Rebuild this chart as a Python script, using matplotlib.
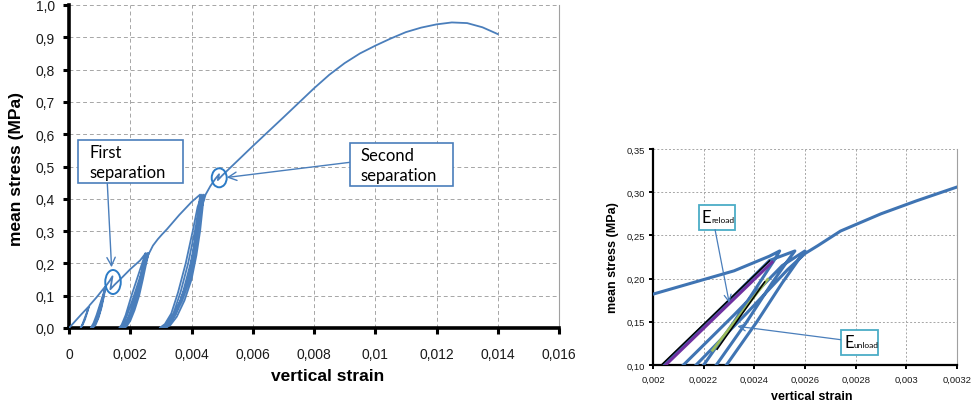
import numpy as np
import matplotlib.pyplot as plt
from matplotlib.patches import Rectangle, Ellipse

plt.rcParams['font.family'] = ['Liberation Sans', 'DejaVu Sans']

# vertical strain / mean stress (MPa)
# initial loading and first small unload-reload loop
load1_strain = [0.0, 0.0002, 0.0004, 0.00064, 0.00060, 0.00052, 0.00044, 0.00038,
                0.00044, 0.00052, 0.00060, 0.00067, 0.0009, 0.00118]
load1_stress = [0.0, 0.021, 0.042, 0.066, 0.050, 0.026, 0.009, 0.0,
                0.012, 0.032, 0.052, 0.070, 0.095, 0.128]

# loops at ~0.13 MPa
loops1_strain = [0.00118, 0.00112, 0.00104, 0.00094, 0.00082, 0.00071, 0.00080, 0.00090,
                 0.00102, 0.00112, 0.00120, 0.00114, 0.00106, 0.00097, 0.00087, 0.00077,
                 0.00086, 0.00097, 0.00109, 0.00122]
loops1_stress = [0.128, 0.095, 0.060, 0.030, 0.008, 0.0, 0.015, 0.040,
                 0.075, 0.105, 0.130, 0.098, 0.063, 0.033, 0.010, 0.0,
                 0.018, 0.050, 0.090, 0.132]

# first separation and reloading up to ~0.23 MPa
load2_strain = [0.00122, 0.00132, 0.00142, 0.00135, 0.00150, 0.00175, 0.00200, 0.00232,
                0.00246, 0.00250]
load2_stress = [0.132, 0.145, 0.160, 0.120, 0.135, 0.158, 0.182, 0.209, 0.226, 0.232]

# loops at ~0.23 MPa (the zoomed window on the right)
loops2_strain = [0.00250, 0.00248, 0.00242, 0.00232, 0.00220, 0.00205, 0.00190, 0.00176, 0.00164,
                 0.00172, 0.00185, 0.00204, 0.00225, 0.00246, 0.00256,
                 0.00253, 0.00247, 0.00237, 0.00225, 0.00210, 0.00195, 0.00182, 0.00172,
                 0.00179, 0.00192, 0.00212, 0.00232, 0.00251, 0.00260,
                 0.00257, 0.00251, 0.00241, 0.00229, 0.00214, 0.00200, 0.00188, 0.00180,
                 0.00186, 0.00199, 0.00217, 0.00237, 0.00253, 0.00260]
loops2_stress = [0.232, 0.222, 0.195, 0.150, 0.100, 0.055, 0.022, 0.005, 0.0,
                 0.010, 0.040, 0.100, 0.160, 0.221, 0.232,
                 0.220, 0.195, 0.150, 0.100, 0.055, 0.022, 0.005, 0.0,
                 0.012, 0.045, 0.100, 0.158, 0.215, 0.232,
                 0.220, 0.195, 0.150, 0.100, 0.055, 0.022, 0.005, 0.0,
                 0.012, 0.045, 0.100, 0.160, 0.210, 0.229]

load3_strain = [0.00265, 0.00274, 0.00290, 0.00304, 0.00320, 0.00360, 0.00400, 0.00428]
load3_stress = [0.238, 0.255, 0.275, 0.290, 0.306, 0.350, 0.390, 0.413]

# loops at ~0.41 MPa
loops3_strain = [0.00424, 0.00416, 0.00404, 0.00388, 0.00364, 0.00338, 0.00316, 0.00296,
                 0.00313, 0.00334, 0.00356, 0.00381, 0.00404, 0.00420, 0.00434,
                 0.00430, 0.00422, 0.00410, 0.00394, 0.00370, 0.00344, 0.00322, 0.00304,
                 0.00320, 0.00341, 0.00364, 0.00389, 0.00411, 0.00426, 0.00440,
                 0.00436, 0.00428, 0.00416, 0.00400, 0.00377, 0.00352, 0.00331, 0.00314,
                 0.00328, 0.00349, 0.00372, 0.00397, 0.00418, 0.00434, 0.00446]
loops3_stress = [0.370, 0.300, 0.225, 0.150, 0.085, 0.035, 0.009, 0.0,
                 0.012, 0.045, 0.110, 0.200, 0.300, 0.375, 0.413,
                 0.370, 0.300, 0.225, 0.150, 0.085, 0.035, 0.009, 0.0,
                 0.012, 0.045, 0.110, 0.200, 0.300, 0.375, 0.413,
                 0.370, 0.300, 0.225, 0.150, 0.085, 0.035, 0.009, 0.0,
                 0.012, 0.045, 0.110, 0.200, 0.300, 0.375, 0.413]

# second separation and loading to failure
load4_strain = [0.00462, 0.00478, 0.00490, 0.00486, 0.00500, 0.00600, 0.00700, 0.00800,
                0.00850, 0.00900, 0.00950, 0.01000, 0.01050, 0.01100, 0.01150, 0.01200,
                0.01250, 0.01300, 0.01350, 0.01400]
load4_stress = [0.440, 0.462, 0.476, 0.458, 0.472, 0.563, 0.652, 0.742,
                0.784, 0.820, 0.850, 0.874, 0.896, 0.916, 0.930, 0.940,
                0.946, 0.944, 0.931, 0.910]

# stiffness fits drawn on the zoomed plot
reload_fit_strain = [0.002033, 0.00246]
reload_fit_stress = [0.100, 0.2206]
reload_data_strain = [0.00205, 0.00247]
reload_data_stress = [0.100, 0.219]
unload_fit_strain = [0.002253, 0.002441]
unload_fit_stress = [0.1182, 0.1962]
unload_data_strain = [0.002235, 0.002452]
unload_data_stress = [0.117, 0.199]

left_xticks = [0, 0.002, 0.004, 0.006, 0.008, 0.010, 0.012, 0.014, 0.016]
left_xlabels = ['0', '0,002', '0,004', '0,006', '0,008', '0,01', '0,012', '0,014', '0,016']
left_yticks = [0.0, 0.1, 0.2, 0.3, 0.4, 0.5, 0.6, 0.7, 0.8, 0.9, 1.0]
left_ylabels = ['0,0', '0,1', '0,2', '0,3', '0,4', '0,5', '0,6', '0,7', '0,8', '0,9', '1,0']
right_xticks = [0.002, 0.0022, 0.0024, 0.0026, 0.0028, 0.003, 0.0032]
right_xlabels = ['0,002', '0,0022', '0,0024', '0,0026', '0,0028', '0,003', '0,0032']
right_yticks = [0.10, 0.15, 0.20, 0.25, 0.30, 0.35]
right_ylabels = ['0,10', '0,15', '0,20', '0,25', '0,30', '0,35']

strain = np.concatenate([load1_strain, loops1_strain, load2_strain, loops2_strain,
                         load3_strain, loops3_strain, load4_strain])
stress = np.concatenate([load1_stress, loops1_stress, load2_stress, loops2_stress,
                         load3_stress, loops3_stress, load4_stress])

blue = '#4a7ebb'
W, H = 972, 410
fig = plt.figure(figsize=(W / 100, H / 100), dpi=100)

ax = fig.add_axes([69 / W, 1 - 329 / H, 490 / W, 323 / H])
ax2 = fig.add_axes([653 / W, 1 - 366 / H, 304 / W, 216 / H])


def style(a, spine_w, tick_len, tick_w, fs, pad, dash):
    a.set_axisbelow(True)
    a.grid(True, color='#a6a6a6', linestyle=dash, linewidth=0.7)
    a.spines['top'].set_visible(False)
    a.spines['right'].set_color('#a0a0a0')
    a.spines['right'].set_linewidth(0.8)
    for s in ('left', 'bottom'):
        a.spines[s].set_linewidth(spine_w)
        a.spines[s].set_color('black')
    a.tick_params(direction='out', length=tick_len, width=tick_w, colors='black',
                  labelcolor='#1a1a1a', labelsize=fs, pad=pad)
    a.tick_params(axis='x', pad=pad * 1.6)


# left: full test
ax.plot(strain, stress, color=blue, lw=1.3, zorder=3)
ax.set_xlim(0, 0.016)
ax.set_ylim(0, 1.0)
ax.set_xticks(left_xticks, left_xlabels)
ax.set_yticks(left_yticks, left_ylabels)
style(ax, 2.6, 4, 2.2, 10, 6, (0, (4, 3)))

circ = '#2b7bc6'
ax.add_patch(Ellipse((0.001437, 0.1424), 0.000506, 0.0743, fill=False,
                     edgecolor=circ, lw=1.4, zorder=4))
ax.add_patch(Ellipse((0.004905, 0.465), 0.00049, 0.0588, fill=False,
                     edgecolor=circ, lw=1.4, zorder=4))

box_font = dict(family=['Lato', 'DejaVu Sans'], fontsize=12, color='black')
ax.add_patch(Rectangle((0.000294, 0.4489), 0.003428, 0.1331, facecolor='white',
                       edgecolor=blue, lw=1.2, zorder=5))
ax.text(0.000663, 0.514, 'First\nseparation', ha='left', va='center',
        linespacing=1.3, zorder=6, **box_font)
ax.add_patch(Rectangle((0.009176, 0.4396), 0.003363, 0.1332, facecolor='white',
                       edgecolor=blue, lw=1.2, zorder=5))
ax.text(0.009525, 0.505, 'Second\nseparation', ha='left', va='center',
        linespacing=1.3, zorder=6, **box_font)

arrow = dict(arrowstyle='->,head_length=0.6,head_width=0.3', color=blue, lw=1.0,
             shrinkA=0, shrinkB=0)
ax.annotate('', xy=(0.00139, 0.188), xytext=(0.00125, 0.449), arrowprops=arrow, zorder=4)
ax.annotate('', xy=(0.00515, 0.466), xytext=(0.009176, 0.513), arrowprops=arrow, zorder=4)

fig.text(17 / W, 1 - 169 / H, 'mean stress (MPa)', rotation=90, ha='center', va='center',
         fontsize=12.5, fontweight='bold')
fig.text(328 / W, 1 - 377 / H, 'vertical strain', ha='center', va='center',
         fontsize=12.5, fontweight='bold')

# right: zoom on the loops at ~0.23 MPa
ax2.plot(strain, stress, color='#3f74b3', lw=2.2, zorder=3)
ax2.plot(reload_data_strain, reload_data_stress, color='#7030a0', lw=2.2, zorder=4)
ax2.plot(reload_fit_strain, reload_fit_stress, color='black', lw=1.1, zorder=5)
ax2.plot(unload_data_strain, unload_data_stress, color='#9bbb59', lw=2.0, zorder=4)
ax2.plot(unload_fit_strain, unload_fit_stress, color='black', lw=1.1, zorder=5)
ax2.set_xlim(0.002, 0.0032)
ax2.set_ylim(0.10, 0.35)
ax2.set_xticks(right_xticks, right_xlabels)
ax2.set_yticks(right_yticks, right_ylabels)
style(ax2, 1.6, 3, 1.4, 6.8, 2.5, (0, (2, 2)))

teal = '#4bacc6'
for x0, y0, w, h, tx, ty, sub in [(0.002180, 0.2566, 0.000142, 0.0286, 0.002192, 0.271, 'reload'),
                                  (0.002741, 0.1119, 0.000148, 0.0290, 0.002755, 0.1263, 'unload')]:
    ax2.add_patch(Rectangle((x0, y0), w, h, facecolor='white', edgecolor=teal,
                            lw=1.3, zorder=6))
    t = ax2.text(tx, ty, 'E', ha='left', va='center', fontsize=12,
                 family=['Lato', 'DejaVu Sans'], zorder=7)
    ax2.annotate(sub, xy=(1, 0.12), xycoords=t, ha='left', va='bottom', fontsize=6,
                 family=['Lato', 'DejaVu Sans'], zorder=7)

arrow2 = dict(arrowstyle='->,head_length=0.5,head_width=0.25', color=blue, lw=0.9,
              shrinkA=0, shrinkB=0)
ax2.annotate('', xy=(0.002301, 0.1718), xytext=(0.002245, 0.2566), arrowprops=arrow2, zorder=6)
ax2.annotate('', xy=(0.002333, 0.1448), xytext=(0.002741, 0.1293), arrowprops=arrow2, zorder=6)

fig.text(613 / W, 1 - 258 / H, 'mean stress (MPa)', rotation=90, ha='center', va='center',
         fontsize=9, fontweight='bold')
fig.text(812 / W, 1 - 397 / H, 'vertical strain', ha='center', va='center',
         fontsize=9, fontweight='bold')

fig.savefig('out.png', dpi=100)
